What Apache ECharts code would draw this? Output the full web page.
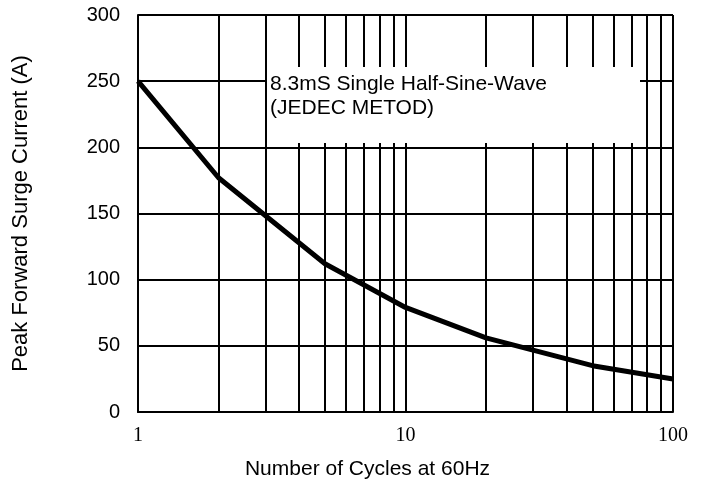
<!DOCTYPE html>
<html>
<head>
<meta charset="utf-8">
<script src="https://cdn.jsdelivr.net/npm/echarts@6/dist/echarts.min.js"></script>
<style>
  html, body { margin: 0; padding: 0; background: #fff; }
  #chart { width: 704px; height: 490px; }
</style>
</head>
<body>
<div id="chart"></div>
<script>
// cycles at 60Hz vs peak forward surge current
var cycles = [1, 2, 5, 10, 20, 50, 100];
var surgeCurrent = [250, 177, 112, 79, 56, 35, 25];
// minor log grid lines
var minorX = [2, 3, 4, 5, 6, 7, 8, 9, 20, 30, 40, 50, 60, 70, 80, 90];
var yTicks = [0, 50, 100, 150, 200, 250, 300];

var chart = echarts.init(document.getElementById("chart"));

var option = {
  animation: false,
  backgroundColor: "#fff",
  grid: { left: 138, right: 31, top: 15, bottom: 78 },
  xAxis: {
    type: "log",
    logBase: 10,
    min: 1,
    max: 100,
    name: "Number of Cycles at 60Hz",
    nameLocation: "middle",
    nameGap: 47,
    // title sits a bit left of the plot centre in the original
    nameTextStyle: { fontFamily: "Liberation Sans", fontSize: 21, color: "#000", padding: [0, 76, 0, 0] },
    axisLine: { show: true, lineStyle: { color: "#000", width: 2 } },
    axisTick: { show: false },
    axisLabel: { fontFamily: "Liberation Serif", fontSize: 20, color: "#000", margin: 14 },
    splitLine: { show: true, lineStyle: { color: "#000", width: 2 } }
  },
  yAxis: {
    type: "value",
    min: yTicks[0],
    max: yTicks[yTicks.length - 1],
    interval: 50,
    name: "Peak Forward Surge Current (A)",
    nameLocation: "middle",
    nameGap: 106,
    nameTextStyle: { fontFamily: "Liberation Sans", fontSize: 22, color: "#000" },
    axisLine: { show: true, lineStyle: { color: "#000", width: 2 } },
    axisTick: { show: false },
    axisLabel: { fontFamily: "Liberation Sans", fontSize: 20, color: "#000", margin: 18 },
    splitLine: { show: true, lineStyle: { color: "#000", width: 2 } }
  },
  series: [
    {
      type: "line",
      data: cycles.map(function (c, i) { return [c, surgeCurrent[i]]; }),
      symbol: "none",
      lineStyle: { color: "#000", width: 5 },
      z: 5,
      markLine: {
        silent: true,
        symbol: "none",
        label: { show: false },
        lineStyle: { color: "#000", width: 2, type: "solid" },
        data: minorX.map(function (v) { return { xAxis: v }; })
      }
    }
  ],
  graphic: [
    {
      type: "rect",
      shape: { x: 267, y: 67, width: 373, height: 76 },
      style: { fill: "#fff" },
      z: 100
    },
    {
      type: "text",
      x: 270,
      y: 72,
      style: {
        text: "8.3mS Single Half-Sine-Wave\n(JEDEC METOD)",
        font: "21px 'Liberation Sans'",
        fill: "#000",
        lineHeight: 24
      },
      z: 101
    }
  ]
};

chart.setOption(option);
</script>
</body>
</html>
